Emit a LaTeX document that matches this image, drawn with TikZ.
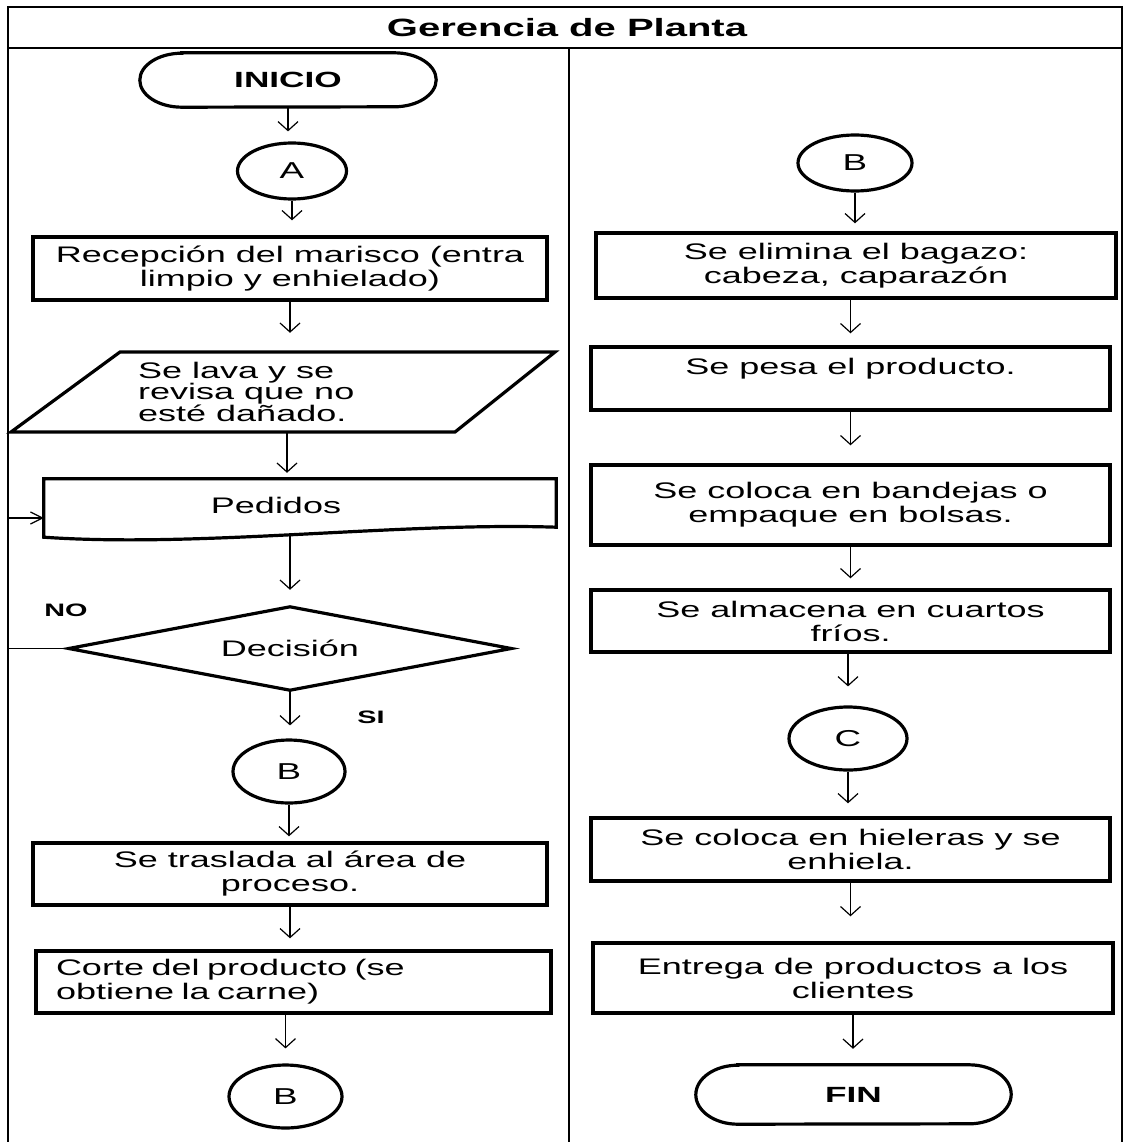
\documentclass[tikz,border=0pt]{standalone}
\usepackage{fontspec}
\setmainfont{Liberation Sans}[FakeStretch=1.6]
\usetikzlibrary{arrows.meta,shapes.geometric}
\begin{document}
\begin{tikzpicture}[x=1pt,y=1pt,
  frame/.style={line width=2pt},
  proc/.style={draw, rectangle, line width=3.4pt, inner sep=0pt, align=center, font=\fontsize{22.5}{24}\selectfont},
  conn/.style={draw, ellipse, line width=3.2pt, inner sep=0pt, font=\fontsize{23}{24}\selectfont},
  ghost/.style={inner sep=0pt, align=center, font=\fontsize{22.5}{24}\selectfont},
  termtxt/.style={inner sep=0pt, font=\bfseries\fontsize{22}{24}\selectfont},
  shp/.style={line width=3.2pt, line join=miter},
  arr/.style={line width=1.2pt, -{Straight Barb[length=9pt,width=20pt]}},
  harr/.style={line width=1.2pt, -{Straight Barb[length=12pt,width=12pt]}},
  lbl/.style={inner sep=0pt, font=\bfseries\fontsize{18}{20}\selectfont}
]
\useasboundingbox (0,0) rectangle (1125,-1142);

% frame
\draw[frame] (8,-1142) -- (8,-7) -- (1122,-7) -- (1122,-1142);
\draw[frame] (8,-48) -- (1122,-48);
\draw[frame] (569,-48) -- (569,-1142);
\node[inner sep=0pt, font=\bfseries\fontsize{25}{28}\selectfont] (title) at (567,-28) {Gerencia de Planta};

% ---------- left lane ----------
\node[termtxt, minimum width=296pt, minimum height=54pt] (ini) at (288,-80) {INICIO};
\draw[shp] ([xshift=42pt]ini.north west) -- ([xshift=-42pt]ini.north east)
  arc[start angle=90, end angle=-90, x radius=42pt, y radius=27pt]
  -- ([xshift=42pt]ini.south west)
  arc[start angle=270, end angle=90, x radius=42pt, y radius=27pt] -- cycle;

\node[conn, minimum width=109pt, minimum height=56pt] (A) at (292,-171) {A};

\node[proc, minimum width=514pt, minimum height=63pt] (r1) at (290,-268.5)
  {Recepción del marisco (entra\\limpio y enhielado)};

\node[ghost, minimum width=440pt, minimum height=80pt] (lava) at (287,-392) {};
\draw[shp] (120,-352) -- (555,-352) -- (455,-432) -- (11,-432) -- cycle;
\node[inner sep=0pt, anchor=west, align=left, font=\fontsize{22.5}{21.5}\selectfont] (lavat) at (138,-391.5)
  {Se lava y se\\revisa que no\\esté dañado.};

\node[ghost, minimum width=512pt, minimum height=56pt] (ped) at (300,-507) {};
\draw[shp] (ped.north west) -- (ped.north east) -- ([yshift=8pt]ped.south east)
  .. controls (400,-522) and (200,-548) .. ([yshift=-2pt]ped.south west) -- cycle;
\node[ghost] (pedt) at (276,-505) {Pedidos};
\coordinate (pin) at (8,-518);
\draw[harr] (pin) -- (pin -| ped.west);

\node[ghost, minimum width=442pt, minimum height=83pt] (dec) at (290,-648.5) {Decisión};
\draw[shp] (dec.west) -- (dec.north) -- (dec.east) -- (dec.south) -- cycle;
\coordinate (nol) at (8,-648.5);
\draw[line width=1pt] (nol) -- (dec.west);
\node[lbl] (no) at (66,-610) {NO};
\node[lbl] (si) at (371,-717) {SI};

\node[conn, minimum width=112pt, minimum height=63pt] (B1) at (289,-771.5) {B};

\node[proc, minimum width=514pt, minimum height=62pt] (tras) at (290,-874)
  {Se traslada al área de\\proceso.};

\node[proc, minimum width=515pt, minimum height=62pt, text width=475pt, align=left] (corte) at (293.5,-982)
  {Corte del producto (se\\obtiene la carne)};

\node[conn, minimum width=113pt, minimum height=63pt] (B2) at (285.5,-1096.5) {B};

% ---------- right lane ----------
\node[conn, minimum width=114pt, minimum height=56pt] (Br) at (855,-163) {B};

\node[proc, minimum width=520pt, minimum height=65pt] (bag) at (856,-265.5)
  {Se elimina el bagazo:\\cabeza, caparazón};

\node[proc, minimum width=519pt, minimum height=63pt] (pesa) at (850.5,-378.5)
  {Se pesa el producto.\\\mbox{}};

\node[proc, minimum width=519pt, minimum height=80pt] (band) at (850.5,-505)
  {Se coloca en bandejas o\\empaque en bolsas.};

\node[proc, minimum width=519pt, minimum height=62pt] (alm) at (850.5,-621)
  {Se almacena en cuartos\\fríos.};

\node[conn, minimum width=118pt, minimum height=63pt] (C) at (848,-738.5) {C};

\node[proc, minimum width=519pt, minimum height=63pt] (hiel) at (850.5,-849.5)
  {Se coloca en hieleras y se\\enhiela.};

\node[proc, minimum width=520pt, minimum height=70pt] (ent) at (853,-978)
  {Entrega de productos a los\\clientes};

\node[termtxt, minimum width=315pt, minimum height=59pt] (fin) at (853.5,-1094.5) {FIN};
\draw[shp] ([xshift=42pt]fin.north west) -- ([xshift=-42pt]fin.north east)
  arc[start angle=90, end angle=-90, x radius=42pt, y radius=29.5pt]
  -- ([xshift=42pt]fin.south west)
  arc[start angle=270, end angle=90, x radius=42pt, y radius=29.5pt] -- cycle;

% ---------- connectors ----------
\draw[arr, shorten >=10pt] (ini.south) -- (ini.south |- A.north);
\draw[arr, shorten >=15pt] (A.south) -- (A.south |- r1.north);
\draw[arr, shorten >=19pt] (r1.south) -- (r1.south |- lava.north);
\draw[arr, shorten >=6pt] (lava.south) -- (lava.south |- ped.north);
\draw[arr, shorten >=17pt] (dec.north |- ped.south) -- (dec.north);
\draw[arr, shorten >=13pt] (dec.south) -- (dec.south |- B1.north);
\draw[arr, shorten >=5pt] (B1.south) -- (B1.south |- tras.north);
\draw[arr, shorten >=11pt] (tras.south) -- (tras.south |- corte.north);
\draw[arr, shorten >=15pt] (corte.south -| B2.north) -- (B2.north);

\draw[arr, shorten >=8pt] (Br.south) -- (Br.south |- bag.north);
\draw[arr, shorten >=12pt] (bag.south -| pesa.north) -- (pesa.north);
\draw[arr, shorten >=18pt] (pesa.south) -- (pesa.south |- band.north);
\draw[arr, shorten >=10pt] (band.south) -- (band.south |- alm.north);
\draw[arr, shorten >=19pt] (alm.south -| C.north) -- (C.north);
\draw[arr, shorten >=13pt] (C.south) -- (C.south |- hiel.north);
\draw[arr, shorten >=25pt] (hiel.south) -- (hiel.south |- ent.north);
\draw[arr, shorten >=16pt] (ent.south) -- (ent.south |- fin.north);
\end{tikzpicture}
\end{document}
